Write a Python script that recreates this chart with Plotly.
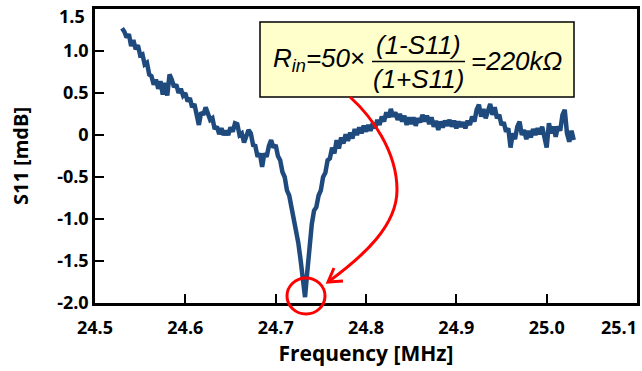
import numpy as np
import plotly.graph_objects as go

# ---- data ----
f_start, f_stop, n_pts = 24.530, 25.030, 201   # frequency sweep [MHz]
s11 = [
    1.27, 1.23, 1.16, 1.20, 1.06, 1.13, 1.02, 1.07, 0.95, 0.96,
    0.84, 0.86, 0.72, 0.70, 0.60, 0.66, 0.55, 0.64, 0.48, 0.62,
    0.47, 0.72, 0.66, 0.57, 0.60, 0.50, 0.55, 0.47, 0.50, 0.40,
    0.44, 0.33, 0.37, 0.22, 0.12, 0.27, 0.24, 0.33, 0.25, 0.18,
    0.20, 0.07, 0.10, 0.01, 0.08, 0.00, 0.05, 0.00, 0.09, 0.04,
    0.14, 0.13, 0.00, 0.02, -0.09, 0.00, 0.06, 0.02, -0.12, -0.13,
    -0.26, -0.22, -0.38, -0.22, -0.26, -0.13, -0.06, -0.15, -0.12, -0.25,
    -0.30, -0.44, -0.50, -0.66, -0.72, -0.86, -0.98, -1.16, -1.28, -1.48,
    -1.66, -1.93, -1.63, -1.30, -1.06, -0.90, -0.86, -0.72, -0.66, -0.50,
    -0.45, -0.30, -0.28, -0.15, -0.22, -0.06, -0.16, -0.03, -0.10, 0.01,
    -0.07, 0.03, -0.04, 0.07, 0.00, 0.09, 0.02, 0.11, 0.04, 0.12,
    0.05, 0.14, 0.08, 0.18, 0.12, 0.22, 0.16, 0.27, 0.21, 0.31,
    0.22, 0.27, 0.18, 0.25, 0.16, 0.23, 0.12, 0.21, 0.13, 0.21,
    0.11, 0.20, 0.15, 0.24, 0.16, 0.23, 0.13, 0.21, 0.10, 0.17,
    0.06, 0.16, 0.09, 0.17, 0.11, 0.18, 0.10, 0.17, 0.08, 0.16,
    0.10, 0.15, 0.08, 0.17, 0.12, 0.22, 0.16, 0.30, 0.36, 0.22,
    0.31, 0.20, 0.30, 0.37, 0.24, 0.33, 0.20, 0.24, 0.12, 0.15,
    0.04, 0.08, -0.15, 0.02, -0.05, 0.10, 0.16, 0.00, 0.06, -0.05,
    0.05, -0.03, 0.07, 0.00, 0.08, 0.01, 0.10, -0.05, -0.15, 0.14,
    0.02, 0.10, -0.02, 0.10, 0.05, 0.24, 0.30, 0.02, -0.08, 0.05,
    -0.06,
]
freq = np.linspace(f_start, f_stop, n_pts)

x_ticks = [24.5, 24.6, 24.7, 24.8, 24.9, 25.0, 25.1]
x_tick_text = ["24.5", "24.6", "24.7", "24.8", "24.9", "25.0", "25.1"]
y_ticks = [1.5, 1.0, 0.5, 0, -0.5, -1.0, -1.5, -2.0]
y_tick_text = ["1.5", "1.0", "0.5", "0", "-0.5", "-1.0", "-1.5", "-2.0"]

# ---- layout geometry (pixels) ----
W, H = 642, 371
ML, MR, MT, MB = 95, 5, 9, 68
PW, PH = W - ML - MR, H - MT - MB

def px(x):
    return (x - ML) / PW

def py(y):
    return (H - MB - y) / PH

fig = go.Figure()
fig.add_trace(go.Scatter(
    x=freq, y=s11, mode="lines",
    line=dict(color="#1F4A7E", width=4.5),
    hoverinfo="skip", showlegend=False,
))

tick_font = dict(family="Open Sans", size=18, color="black", weight=700)
axis_common = dict(
    showline=True, linecolor="black", linewidth=2.5, mirror=True,
    ticks="inside", ticklen=9, tickwidth=2, tickcolor="black",
    showgrid=False, zeroline=False, tickfont=tick_font,
    ticklabeloverflow="allow", automargin=False,
)

# the edge labels (first y, last x) are nudged inside the picture, as in the reference
x_text_axis = x_tick_text[:-1] + [""]
y_text_axis = [""] + y_tick_text[1:]

fig.update_layout(
    width=W, height=H,
    margin=dict(l=ML, r=MR, t=MT, b=MB, pad=0),
    paper_bgcolor="white", plot_bgcolor="white",
    xaxis=dict(range=[24.5, 25.1], tickvals=x_ticks, ticktext=x_text_axis,
               ticklabelstandoff=7,
               title=dict(text="Frequency [MHz]", standoff=2,
                          font=dict(family="Open Sans", size=21, color="black", weight=700)),
               **axis_common),
    yaxis=dict(range=[-2.0, 1.5], tickvals=y_ticks, ticktext=y_text_axis,
               title=dict(text="S11 [mdB]", standoff=24,
                          font=dict(family="Open Sans", size=20, color="black", weight=700)),
               **axis_common),
)

fig.add_annotation(xref="paper", yref="paper", x=px(619), y=py(327), xanchor="center",
                   yanchor="middle", showarrow=False, font=tick_font, text=x_tick_text[-1])
fig.add_annotation(xref="paper", yref="paper", x=px(87), y=py(16), xanchor="right",
                   yanchor="middle", showarrow=False, font=tick_font, text=y_tick_text[0])

# ---- formula box ----
fig.add_shape(type="rect", xref="paper", yref="paper",
              x0=px(260), x1=px(574), y0=py(97), y1=py(22),
              fillcolor="#FFFFCC", line=dict(color="black", width=1.5), layer="above")
fig.add_shape(type="line", xref="paper", yref="paper",
              x0=px(372), x1=px(465), y0=py(61.5), y1=py(61.5),
              line=dict(color="black", width=1.3), layer="above")

ffont = dict(family="Liberation Sans", size=26, color="black")
fig.add_annotation(xref="paper", yref="paper", x=px(271), y=py(60), xanchor="left",
                   yanchor="middle", showarrow=False, font=ffont,
                   text="<i>R<sub>in</sub>=50</i>×")
fig.add_annotation(xref="paper", yref="paper", x=px(418.5), y=py(45), xanchor="center",
                   yanchor="middle", showarrow=False, font=ffont, text="<i>(1-S11)</i>")
fig.add_annotation(xref="paper", yref="paper", x=px(418.5), y=py(79), xanchor="center",
                   yanchor="middle", showarrow=False, font=ffont, text="<i>(1+S11)</i>")
fig.add_annotation(xref="paper", yref="paper", x=px(469), y=py(61), xanchor="left",
                   yanchor="middle", showarrow=False, font=ffont, text="<i>=220kΩ</i>")

# ---- red arrow and circle ----
def pt(x, y):
    return f"{px(x):.5f},{py(y):.5f}"

curve = (f"M {pt(350, 97)} C {pt(370, 115)} {pt(397, 150)} {pt(397, 190)} "
         f"C {pt(397, 225)} {pt(365, 255)} {pt(328, 282)}")
fig.add_shape(type="path", xref="paper", yref="paper", path=curve,
              line=dict(color="#FF0000", width=3), layer="above")
head = f"M {pt(343, 281)} L {pt(328, 282)} L {pt(334, 268)}"
fig.add_shape(type="path", xref="paper", yref="paper", path=head,
              line=dict(color="#FF0000", width=3), layer="above")
fig.add_shape(type="circle", xref="paper", yref="paper",
              x0=px(287), x1=px(325), y0=py(314), y1=py(278),
              line=dict(color="#FF0000", width=3), layer="above")

fig.write_html("out.html")
